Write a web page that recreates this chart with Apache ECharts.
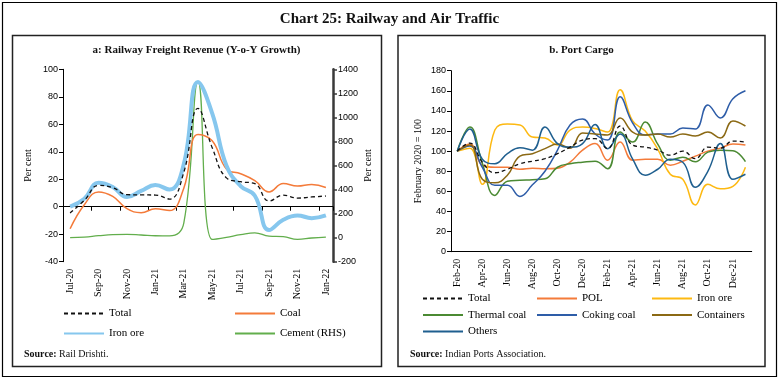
<!DOCTYPE html>
<html><head><meta charset="utf-8">
<script src="https://cdn.jsdelivr.net/npm/echarts@6/dist/echarts.min.js"></script>
<style>html,body{margin:0;padding:0;background:#fff}#c{width:779px;height:380px}</style>
</head><body><div id="c"></div>
<script>
// ---- Panel a: Railway freight revenue (Y-o-Y growth, per cent) ----
const leftCats = ['Jul-20','Aug-20','Sep-20','Oct-20','Nov-20','Dec-20','Jan-21','Feb-21','Mar-21','Apr-21','May-21','Jun-21','Jul-21','Aug-21','Sep-21','Oct-21','Nov-21','Dec-21','Jan-22'];
const railTotal   = [-4.5, 4.6, 15.5, 13.8, 8.8, 8.6, 8.5, 5.6, 25, 71.5, 43, 21, 18.2, 16.8, 4.2, 8.4, 6.3, 7.1, 7.8];
const railCoal    = [-16, 1.5, 10.8, 7.5, -1.4, -4.3, -1.5, -2.8, 13.5, 52.5, 48, 27.5, 24, 19, 10.8, 16.9, 15, 16.2, 14];
const railIronOre = [0, 5.8, 17.5, 14.4, 7.1, 11.5, 15.8, 12.5, 31, 90.8, 68, 30, 15, 8, -17, -9.5, -6.3, -8.3, -6.3];
const railCement  = [0, 5, 16, 25, 27, 22, 16, 14, 120, 1300, -15, 3, 25, 40, 12, 8, -14, -3, 5];
const leftTicks   = {min: -40, max: 100, interval: 20};
const rightTicks  = {min: -200, max: 1400, interval: 200};

// ---- Panel b: Port cargo (February 2020 = 100) ----
const portCats = ['Feb-20','Mar-20','Apr-20','May-20','Jun-20','Jul-20','Aug-20','Sep-20','Oct-20','Nov-20','Dec-20','Jan-21','Feb-21','Mar-21','Apr-21','May-21','Jun-21','Jul-21','Aug-21','Sep-21','Oct-21','Nov-21','Dec-21','Jan-22'];
const portTotal      = [100, 108, 89, 78.5, 82, 87.5, 90, 92.5, 97.5, 104, 111, 112.5, 102.5, 125, 106, 104, 101, 96, 100, 92.5, 104, 103, 110, 109];
const portPOL        = [100, 107, 86, 84, 84, 82, 83, 82.5, 83, 89, 101, 107.5, 91, 109, 91, 92, 92, 86, 90, 95, 100, 103, 107, 106];
const portIronOre    = [100, 103, 67, 121, 127, 126, 114, 113, 106, 121, 124, 122.5, 119, 161, 130, 120, 102, 77, 72, 46.5, 67, 62.5, 65, 84];
const portThermal    = [100, 124, 88, 56, 70, 71, 71.5, 72.5, 84, 87.5, 89, 90, 82.5, 119, 109, 129, 107, 91, 94, 89.5, 99, 101, 100.5, 89.5];
const portCoking     = [100, 105, 84, 66, 66, 55, 66.5, 80, 101, 126, 132, 117, 111, 154, 128, 116, 117, 117, 123, 122, 146, 133, 152, 160];
const portContainers = [100, 106, 72, 68.5, 76, 95, 97.5, 102.5, 107, 103, 118, 117, 116, 133, 119, 116, 117, 114, 117, 115, 119, 113, 130, 125];
const portOthers     = [100, 122, 92, 87.5, 97.5, 103.5, 101, 124, 107.5, 104, 107.5, 126.5, 102.5, 117, 92, 76, 82, 92, 89, 64, 80, 107.5, 72, 77];
const portTicks      = {min: 0, max: 180, interval: 20};

const serif = 'Liberation Serif';
const sans = 'Liberation Sans';
const chart = echarts.init(document.getElementById('c'));

function line(name, data, color, width, xi, yi, dashed) {
  return {name, type: 'line', data, xAxisIndex: xi, yAxisIndex: yi, symbol: 'none', showSymbol: false, smooth: 0.45,
    lineStyle: {color, width, type: dashed ? [4, 3] : 'solid'}, itemStyle: {color}, animation: false, z: 3};
}
function leg(name, left, top) {
  return {data: [name], left, top, itemWidth: 40, itemHeight: 8, padding: 0, selectedMode: false,
    itemStyle: {opacity: 0},
    formatter: n => n.split('|')[0],
    textStyle: {fontFamily: serif, fontSize: 11, color: '#000'}};
}
const yLab = {fontFamily: sans, fontSize: 9, color: '#000', margin: 5, formatter: v => String(v)};
const nameStyle = {fontFamily: serif, fontSize: 10, color: '#000'};

chart.setOption({
  animation: false,
  grid: [
    {left: 63, top: 69.3, width: 270, height: 192.4},
    {left: 451, top: 70.7, width: 300.7, height: 181}
  ],
  xAxis: [
    {gridIndex: 0, type: 'category', data: leftCats, boundaryGap: true, position: 'bottom',
      axisLine: {show: false, onZero: false}, axisTick: {show: false},
      axisLabel: {interval: 1, rotate: 90, fontFamily: serif, fontSize: 10, color: '#000', margin: 7}},
    {gridIndex: 0, type: 'category', data: leftCats, boundaryGap: true, position: 'top',
      axisLine: {show: true, onZero: true, onZeroAxisIndex: 0, lineStyle: {color: '#000', width: 1}},
      axisTick: {show: true, inside: true, interval: 1, length: 4, lineStyle: {color: '#000'}},
      axisLabel: {show: false}},
    {gridIndex: 1, type: 'category', data: portCats, boundaryGap: true,
      axisLine: {lineStyle: {color: '#000', width: 1}},
      axisTick: {interval: 1, length: 4, lineStyle: {color: '#000'}},
      axisLabel: {interval: 1, rotate: 90, fontFamily: serif, fontSize: 10, color: '#000', margin: 7}}
  ],
  yAxis: [
    {gridIndex: 0, type: 'value', position: 'left', ...leftTicks,
      axisLine: {show: true, lineStyle: {color: '#000'}}, axisTick: {show: true, length: 4, lineStyle: {color: '#000'}},
      splitLine: {show: false}, axisLabel: yLab,
      name: 'Per cent', nameLocation: 'middle', nameRotate: 90, nameGap: 30, nameTextStyle: nameStyle},
    {gridIndex: 0, type: 'value', position: 'right', ...rightTicks,
      axisLine: {show: true, lineStyle: {color: '#3a3a3a', width: 2.5}}, axisTick: {show: true, length: 4, lineStyle: {color: '#3a3a3a', width: 1.5}},
      splitLine: {show: false}, axisLabel: yLab,
      name: 'Per cent', nameLocation: 'middle', nameRotate: 90, nameGap: 30, nameTextStyle: nameStyle},
    {gridIndex: 1, type: 'value', position: 'left', ...portTicks,
      axisLine: {show: true, lineStyle: {color: '#000'}}, axisTick: {show: true, length: 4, lineStyle: {color: '#000'}},
      splitLine: {show: false}, axisLabel: yLab,
      name: 'February 2020 = 100', nameLocation: 'middle', nameRotate: 90, nameGap: 28, nameTextStyle: nameStyle}
  ],
  legend: [
    leg('Total', 63, 308), leg('Coal', 234, 308), leg('Iron ore', 63, 328), leg('Cement (RHS)', 234, 328),
    leg('Total|b', 422, 293), leg('POL', 536, 293), leg('Iron ore|b', 651, 293),
    leg('Thermal coal', 422, 309.5), leg('Coking coal', 536, 309.5), leg('Containers', 651, 309.5),
    leg('Others', 422, 326)
  ],
  series: [
    line('Cement (RHS)', railCement, '#62ae4c', 1.3, 0, 1),
    line('Coal', railCoal, '#f47b3a', 1.5, 0, 0),
    line('Iron ore', railIronOre, '#86c7ee', 4, 0, 0),
    line('Total', railTotal, '#111', 1.3, 0, 0, true),
    line('POL', portPOL, '#f47b3a', 1.5, 2, 2),
    line('Iron ore|b', portIronOre, '#fdb912', 1.5, 2, 2),
    line('Thermal coal', portThermal, '#4b8a33', 1.5, 2, 2),
    line('Coking coal', portCoking, '#2e5da8', 1.5, 2, 2),
    line('Containers', portContainers, '#8b6914', 1.5, 2, 2),
    line('Others', portOthers, '#1f5f8f', 1.5, 2, 2),
    line('Total|b', portTotal, '#111', 1.3, 2, 2, true)
  ],
  graphic: [
    {type: 'rect', shape: {x: 2.5, y: 2.5, width: 774, height: 374}, style: {fill: 'none', stroke: '#000', lineWidth: 1.2}, silent: true},
    {type: 'rect', shape: {x: 12.5, y: 35.5, width: 369, height: 331}, style: {fill: 'none', stroke: '#222', lineWidth: 1.5}, silent: true},
    {type: 'rect', shape: {x: 398, y: 35.5, width: 367, height: 331}, style: {fill: 'none', stroke: '#222', lineWidth: 1.5}, silent: true},
    {type: 'text', style: {text: 'Chart 25: Railway and Air Traffic', x: 389.5, y: 19, align: 'center', verticalAlign: 'middle', font: 'bold 15px "Liberation Serif"', fill: '#111'}},
    {type: 'text', style: {text: 'a: Railway Freight Revenue (Y-o-Y Growth)', x: 196.5, y: 50, align: 'center', verticalAlign: 'middle', font: 'bold 11px "Liberation Serif"', fill: '#111'}},
    {type: 'text', style: {text: 'b. Port Cargo', x: 581.5, y: 50, align: 'center', verticalAlign: 'middle', font: 'bold 11px "Liberation Serif"', fill: '#111'}},
    {type: 'text', style: {text: '{b|Source:} Rail Drishti.', x: 24, y: 354, verticalAlign: 'middle', font: '10px "Liberation Serif"', fill: '#111',
      rich: {b: {font: 'bold 10px "Liberation Serif"', fill: '#111'}}}},
    {type: 'text', style: {text: '{b|Source:} Indian Ports Association.', x: 410, y: 354, verticalAlign: 'middle', font: '10px "Liberation Serif"', fill: '#111',
      rich: {b: {font: 'bold 10px "Liberation Serif"', fill: '#111'}}}}
  ]
});
</script></body></html>
